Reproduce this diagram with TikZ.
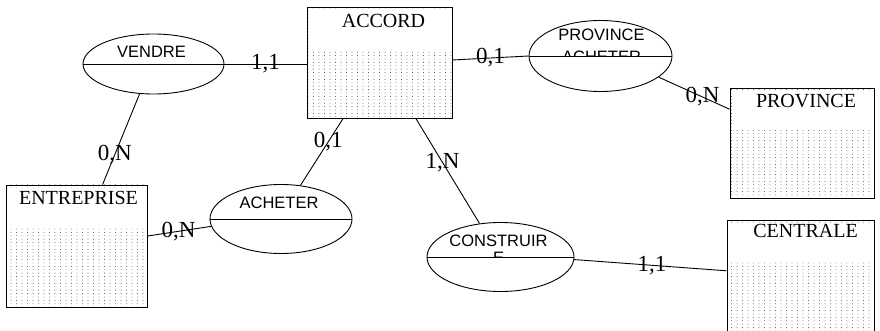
\documentclass[tikz,border=0pt]{standalone}
\usepackage{fontspec}
\setmainfont{Liberation Serif}
\setsansfont{Liberation Sans}
\usepackage{tikz}
\usetikzlibrary{shapes.geometric,patterns,positioning}
\definecolor{pointGris}{HTML}{404040}

\pgfdeclarepatternformonly{pointsMCD}{\pgfqpoint{-1pt}{-1pt}}{\pgfqpoint{1pt}{1pt}}{\pgfqpoint{5.5pt}{3.4pt}}{%
  \pgfpathcircle{\pgfqpoint{0pt}{0pt}}{0.45pt}\pgfusepath{fill}}

\tikzset{
  entite/.style={draw, rectangle, inner sep=0pt, line width=0.9pt,
    path picture={
      \fill[pattern=pointsMCD, pattern color=pointGris]
        (path picture bounding box.south west) rectangle (path picture bounding box.north east);
      \fill[white] ([shift={(3pt,-3pt)}]path picture bounding box.north west)
        rectangle ([yshift=-42pt]path picture bounding box.north east);
    }},
  titre/.style={font=\fontsize{20}{24}\selectfont, inner sep=0pt, anchor=base},
  relation/.style={draw, ellipse, inner sep=0pt, line width=0.9pt},
  nomrel/.style={font=\sffamily\fontsize{16.5}{19}\selectfont, inner sep=0pt, anchor=base},
  card/.style={font=\fontsize{23}{26}\selectfont, inner sep=0pt},
  lien/.style={line width=0.9pt},
}

\begin{document}
\begin{tikzpicture}[x=1pt,y=-1pt]
\useasboundingbox (0,0) rectangle (880,331);
\clip (0,0) rectangle (880,331);

% entites
\node[entite, minimum width=145pt, minimum height=111pt] (accord) at (379.5,62.5) {};
\node[titre] (accordT) at ([shift={(4pt,-20.5pt)}]accord.north) {ACCORD};
\node[entite, minimum width=144pt, minimum height=110pt] (province) at (802,143) {};
\node[titre] (provinceT) at ([shift={(4pt,-20pt)}]province.north) {PROVINCE};
\node[entite, minimum width=141pt, minimum height=122pt] (entreprise) at (76.5,246) {};
\node[titre] (entrepriseT) at ([shift={(2pt,-20pt)}]entreprise.north) {ENTREPRISE};
\node[entite, minimum width=147pt, minimum height=125pt] (centrale) at (800.5,282.5) {};
\node[titre] (centraleT) at ([shift={(5pt,-18pt)}]centrale.north) {CENTRALE};

% relations
\node[relation, minimum width=141pt, minimum height=60pt] (vendre) at (153.5,64) {};
\node[relation, minimum width=142pt, minimum height=69pt] (acheter) at (281,219) {};
\node[relation, minimum width=143pt, minimum height=71pt] (provach) at (600.5,56) {};
\node[relation, minimum width=147pt, minimum height=69pt] (construir) at (500.5,257) {};
\foreach \r in {vendre,acheter,provach,construir}
  \draw[lien] (\r.west) -- (\r.east);

\node[nomrel] (vendreT) at ([shift={(-2pt,6.7pt)}]vendre.center) {VENDRE};
\node[nomrel] (acheterT) at ([shift={(-2pt,10.7pt)}]acheter.center) {ACHETER};
\node[nomrel] (provachT) at ([shift={(1pt,15.3pt)}]provach.center) {PROVINCE};
\node[nomrel] (construirT) at ([shift={(-2pt,11pt)}]construir.center) {CONSTRUIR};
\begin{scope}
  \clip (provach.west) rectangle (provach.north -| provach.east);
  \node[nomrel] (provachB) at ([shift={(1pt,-6.8pt)}]provach.center) {ACHETER};
\end{scope}
\begin{scope}
  \clip (construir.west) rectangle (construir.north -| construir.east);
  \node[nomrel] (construirB) at ([shift={(-2pt,-6.5pt)}]construir.center) {E};
\end{scope}

% liens et cardinalites
\draw[lien] (vendre.east) -- (accord.west |- vendre.east) node[card, midway] (c1) {1,1};
\draw[lien] (accord.east |- 0,60) -- (provach.west) node[card, midway] (c2) {0,1};
\draw[lien] (provach.-20) -- (province.155) node[card, pos=0.62] (c3) {0,N};
\draw[lien] (accord.237) -- (acheter.60) node[card, pos=0.35] (c4) {0,1};
\draw[lien] (accord.303) -- (construir.122) node[card, pos=0.42] (c5) {1,N};
\draw[lien] (vendre.245) -- (entreprise.67) node[card, pos=0.67] (c6) {0,N};
\draw[lien] (entreprise.8) -- (acheter.186) node[card, pos=0.49] (c7) {0,N};
\draw[lien] (construir.-2) -- (centrale.171) node[card, pos=0.51] (c8) {1,1};
\end{tikzpicture}
\end{document}
